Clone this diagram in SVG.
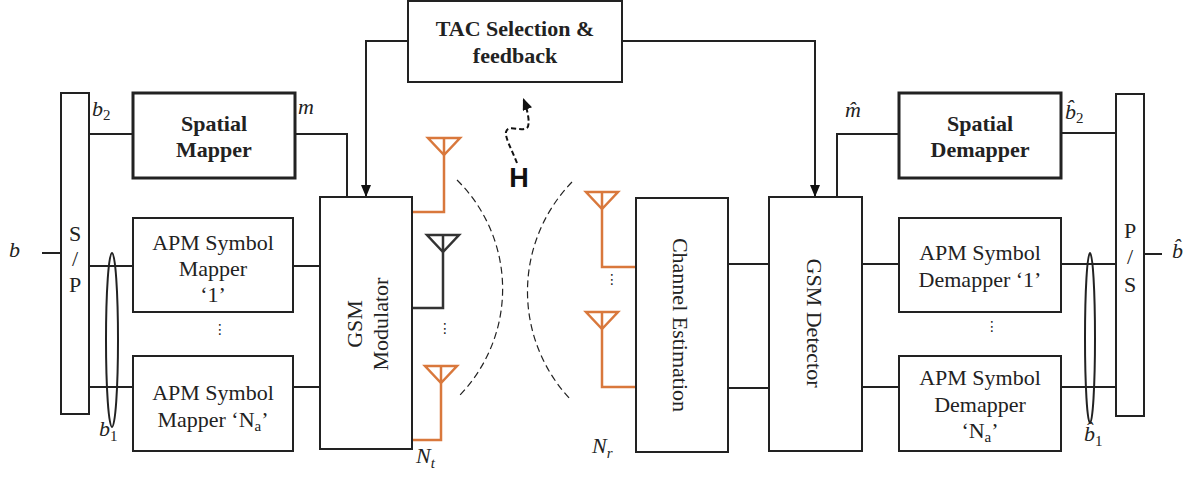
<svg xmlns="http://www.w3.org/2000/svg" width="1198" height="478" viewBox="0 0 1198 478">
<defs>
<style>
.box{fill:#fff;stroke:#222;stroke-width:2}
.tbox{fill:#fff;stroke:#222;stroke-width:3}
.ln{fill:none;stroke:#222;stroke-width:2}
.or{fill:none;stroke:#D9783C;stroke-width:2.5}
.bk{fill:none;stroke:#333;stroke-width:2.5}
.arc{fill:none;stroke:#222;stroke-width:1.2;stroke-dasharray:7,4}
.t{font-family:"Liberation Serif","Times New Roman",serif;font-size:22px;fill:#222;text-anchor:middle}
.tb{font-family:"Liberation Serif","Times New Roman",serif;font-size:22px;font-weight:bold;fill:#222;text-anchor:middle}
.m{font-family:"Liberation Serif","Times New Roman",serif;font-size:22px;font-style:italic;fill:#222}
.d{font-family:"DejaVu Sans",sans-serif;font-size:14px;fill:#222;text-anchor:middle}
</style>
<marker id="ah" viewBox="0 0 12 10" refX="12" refY="5" markerWidth="12" markerHeight="10" markerUnits="userSpaceOnUse" orient="auto">
<path d="M0,0 L12,5 L0,10 Z" fill="#111"/>
</marker>
<path id="ant" d="M-16,0 H16 L0,17 Z M0,0 V17"/>
</defs>

<g id="connectors">
<line class="ln" x1="42" y1="253" x2="61" y2="253"/>
<line class="ln" x1="89" y1="134" x2="133" y2="134"/>
<line class="ln" x1="89" y1="266" x2="133" y2="266"/>
<line class="ln" x1="89" y1="387" x2="133" y2="387"/>
<ellipse class="ln" cx="112" cy="340" rx="6" ry="87" stroke-width="1.3"/>
<polyline class="ln" points="295,134 347,134 347,197"/>
<line class="ln" x1="293" y1="266" x2="320" y2="266"/>
<line class="ln" x1="293" y1="387" x2="320" y2="387"/>
<polyline class="ln" points="408,41 366,41 366,197" marker-end="url(#ah)"/>
<polyline class="ln" points="622,41 815,41 815,197" marker-end="url(#ah)"/>
<path d="M517,163 C512,150 505,138 506,132 C508,124 520,132 527,128 C531,124 527,108 523,98" fill="none" stroke="#111" stroke-width="2" stroke-dasharray="5,3" marker-end="url(#ah)"/>
<path class="arc" d="M457,180 A153,153 0 0 1 458,397"/>
<path class="arc" d="M572,182 A157,157 0 0 0 571,400"/>
<line class="ln" x1="728" y1="264" x2="769" y2="264"/>
<line class="ln" x1="728" y1="388" x2="769" y2="388"/>
<polyline class="ln" points="837,197 837,134 899,134"/>
<line class="ln" x1="862" y1="264" x2="899" y2="264"/>
<line class="ln" x1="862" y1="387" x2="899" y2="387"/>
<line class="ln" x1="1061" y1="133" x2="1116" y2="133"/>
<line class="ln" x1="1061" y1="264" x2="1116" y2="264"/>
<line class="ln" x1="1061" y1="387" x2="1116" y2="387"/>
<ellipse class="ln" cx="1090" cy="338" rx="5" ry="85" stroke-width="1.3"/>
<line class="ln" x1="1144" y1="254" x2="1162" y2="254"/>
</g>

<g id="tx-antennas">
<use href="#ant" class="or" x="444" y="138"/>
<polyline class="or" points="444,155 444,212 412,212"/>
<use href="#ant" class="bk" x="443" y="235"/>
<polyline class="bk" points="443,252 443,308 412,308"/>
<text class="d" x="445" y="333">⋮</text>
<use href="#ant" class="or" x="441" y="366"/>
<polyline class="or" points="441,383 441,440 412,440"/>
</g>

<g id="rx-antennas">
<use href="#ant" class="or" x="602" y="192"/>
<polyline class="or" points="602,209 602,267 636,267"/>
<text class="d" x="612" y="284">⋮</text>
<use href="#ant" class="or" x="602" y="312"/>
<polyline class="or" points="602,329 602,387 636,387"/>
</g>

<g id="labels">
<text class="m" x="9" y="257">b</text>
<text class="m" x="92" y="116">b<tspan font-size="15" font-style="normal" dy="4">2</tspan></text>
<text class="m" x="298" y="114">m</text>
<text class="m" x="99" y="436">b<tspan font-size="15" font-style="normal" dy="5">1</tspan></text>
<text class="m" x="416" y="463">N<tspan font-size="15" dy="5">t</tspan></text>
<text class="m" x="592" y="453">N<tspan font-size="15" dy="5">r</tspan></text>
<text class="m" x="845" y="117">m̂</text>
<text class="m" x="1065" y="119">b̂<tspan font-size="15" font-style="normal" dy="4">2</tspan></text>
<text class="m" x="1172" y="258">b̂</text>
<text class="m" x="1084" y="441">b̂<tspan font-size="15" font-style="normal" dy="5">1</tspan></text>
<text x="519" y="187" font-family="Liberation Sans,Arial,sans-serif" font-size="27" font-weight="bold" fill="#111" text-anchor="middle">H</text>
</g>

<g id="sp">
<rect class="box" x="61" y="93" width="28" height="321"/>
<text class="t" x="75" y="241" font-size="23">S</text>
<text class="t" x="75" y="266" font-size="17">/</text>
<text class="t" x="75" y="292" font-size="23">P</text>
</g>

<g id="spatial-mapper">
<rect class="tbox" x="133" y="93" width="162" height="85"/>
<text class="tb" x="214" y="131">Spatial</text>
<text class="tb" x="214" y="157">Mapper</text>
</g>

<g id="apm-mapper-1">
<rect class="box" x="133" y="218" width="160" height="94"/>
<text class="t" x="213" y="250">APM Symbol</text>
<text class="t" x="213" y="276">Mapper</text>
<text class="t" x="213" y="302">‘1’</text>
</g>
<text class="d" x="220" y="334">⋮</text>

<g id="apm-mapper-na">
<rect class="box" x="133" y="356" width="160" height="95"/>
<text class="t" x="213" y="400">APM Symbol</text>
<text class="t" x="213" y="427">Mapper ‘N<tspan font-size="15" dy="4">a</tspan><tspan dy="-4">’</tspan></text>
</g>

<g id="gsm-modulator">
<rect class="box" x="320" y="197" width="92" height="252"/>
<text class="t" transform="translate(362,324) rotate(-90)">GSM</text>
<text class="t" transform="translate(388,324) rotate(-90)">Modulator</text>
</g>

<g id="tac">
<rect class="box" x="408" y="1" width="214" height="81"/>
<text class="tb" x="515" y="36">TAC Selection &amp;</text>
<text class="tb" x="515" y="63">feedback</text>
</g>

<g id="channel-estimation">
<rect class="box" x="636" y="198" width="92" height="254"/>
<text class="t" transform="translate(673,325) rotate(90)">Channel Estimation</text>
</g>

<g id="gsm-detector">
<rect class="box" x="769" y="197" width="93" height="254"/>
<text class="t" transform="translate(807,323) rotate(90)">GSM Detector</text>
</g>

<g id="spatial-demapper">
<rect class="tbox" x="899" y="93" width="162" height="85"/>
<text class="tb" x="980" y="131">Spatial</text>
<text class="tb" x="980" y="157">Demapper</text>
</g>

<g id="apm-demapper-1">
<rect class="box" x="899" y="218" width="162" height="94"/>
<text class="t" x="980" y="260">APM Symbol</text>
<text class="t" x="980" y="287">Demapper ‘1’</text>
</g>
<text class="d" x="992" y="331">⋮</text>

<g id="apm-demapper-na">
<rect class="box" x="899" y="356" width="162" height="95"/>
<text class="t" x="980" y="385">APM Symbol</text>
<text class="t" x="980" y="412">Demapper</text>
<text class="t" x="980" y="438">‘N<tspan font-size="15" dy="4">a</tspan><tspan dy="-4">’</tspan></text>
</g>

<g id="ps">
<rect class="box" x="1116" y="94" width="28" height="322"/>
<text class="t" x="1130" y="238" font-size="23">P</text>
<text class="t" x="1130" y="264" font-size="17">/</text>
<text class="t" x="1130" y="292" font-size="23">S</text>
</g>
</svg>
